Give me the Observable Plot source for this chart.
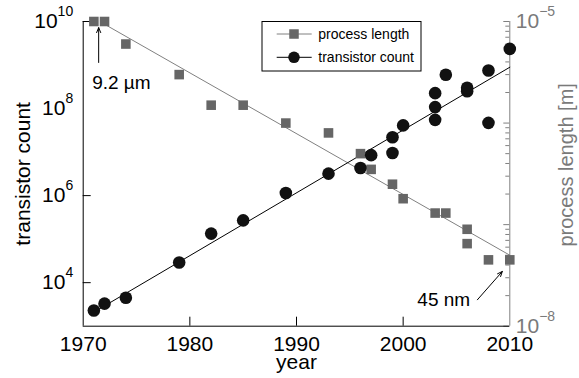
<!DOCTYPE html>
<html><head><meta charset="utf-8">
<script src="https://cdn.jsdelivr.net/npm/d3@7"></script>
<script src="https://cdn.jsdelivr.net/npm/@observablehq/plot@0.6"></script>
<style>body{margin:0;background:#fff}</style>
</head><body><div id="chart"></div>
<script>
// ---- data ----
const processYears  = [1971, 1972, 1974, 1979, 1982, 1985, 1989, 1993, 1996, 1997, 1999, 2000, 2003, 2004, 2006, 2006, 2008, 2010];
const processLength = [1e-5, 1e-5, 6e-6, 3e-6, 1.5e-6, 1.5e-6, 1e-6, 8e-7, 5e-7, 3.5e-7, 2.5e-7, 1.8e-7, 1.3e-7, 1.3e-7, 9e-8, 6.5e-8, 4.5e-8, 4.5e-8];

const transistorYears = [1971, 1972, 1974, 1979, 1982, 1985, 1989, 1993, 1996, 1997, 1999, 1999, 2000, 2003, 2003, 2003, 2004, 2006, 2006, 2008, 2008, 2010];
const transistorCount = [2300, 3300, 4500, 29000, 134000, 270000, 1.15e6, 3.2e6, 4.3e6, 8.5e6, 9.5e6, 2.2e7, 4.1e7, 5.5e7, 1.08e8, 2.26e8, 6.0e8, 2.5e8, 3.0e8, 7.5e8, 4.7e7, 2.35e9];

const processFitYears  = [1972, 2010];
const processFitValues = [9.4e-6, 5.0e-8];
const transistorFitYears  = [1971, 2010];
const transistorFitValues = [2100, 8.9e8];

const xTickValues = [1970, 1980, 1990, 2000, 2010];
const leftTickLabels = [1e4, 1e6, 1e8, 1e10];
const leftTickMarks = [1e4, 1e6, 1e10];
const rightTickValues = [1e-5, 1e-6, 1e-7, 1e-8];

const annotationTexts  = ["9.2 µm", "45 nm"];
const annotationYears  = [1970.84, 2001.33];
const annotationValues = [2.5e-6, 1.8e-8];
const arrowYears1  = [1971.45, 2006.96];
const arrowValues1 = [3.95e-6, 1.82e-8];
const arrowYears2  = [1971.45, 2009.3];
const arrowValues2 = [8.7e-6, 3.46e-8];

const legendLabels = ["process length", "transistor count"];

// ---- layout / style ----
const FONT = "'Liberation Sans', Arial, Helvetica, sans-serif";
const GRAY_MARK = "#666666";
const GRAY_LINE = "#808080";
const GRAY_TEXT = "#7a7a7a";
const W = 579, H = 378;
const mL = 82.7, mR = 69.7, mT = 21, mB = 52.3;
const frameW = W - mL - mR, frameH = H - mT - mB;

// map process length (1e-8..1e-5) onto the transistor-count scale (1e3..1e10)
const tp = v => Math.pow(10, 3 + (Math.log10(v) + 8) * 7 / 3);
const tpInv = d => Math.round((Math.log10(d) - 3) * 3 / 7 - 8);

const processData = processYears.map((y, i) => ({year: y, v: tp(processLength[i])}));
const transistorData = transistorYears.map((y, i) => ({year: y, v: transistorCount[i]}));
const processFit = processFitYears.map((y, i) => ({year: y, v: tp(processFitValues[i])}));
const transistorFit = transistorFitYears.map((y, i) => ({year: y, v: transistorFitValues[i]}));
const annotations = annotationTexts.map((t, i) => ({t, year: annotationYears[i], v: tp(annotationValues[i])}));
const arrows = arrowYears1.map((y, i) => ({x1: y, y1: tp(arrowValues1[i]), x2: arrowYears2[i], y2: tp(arrowValues2[i])}));

const minorRight = [];
for (let e = -8; e < -5; e++) for (let k = 2; k <= 9; k++) minorRight.push(tp(k * Math.pow(10, e)));

const supFmt = e => "10^" + String(e).replace("-", "\u2212");

const plot = Plot.plot({
  width: W, height: H,
  marginLeft: mL, marginRight: mR, marginTop: mT, marginBottom: mB,
  style: {fontFamily: FONT, fontSize: "20px", background: "white", overflow: "visible"},
  x: {domain: [1970, 2010], axis: null},
  y: {type: "log", domain: [1e3, 1e10], axis: null},
  marks: [
    // inward ticks
    Plot.tickX(xTickValues.slice(1, -1), {insetTop: frameH - 9, stroke: "black"}),
    Plot.tickY(leftTickMarks, {insetRight: frameW - 8, stroke: "black"}),
    Plot.tickY(rightTickValues.map(tp), {insetLeft: frameW - 6, stroke: GRAY_LINE}),
    Plot.tickY(minorRight, {insetLeft: frameW - 4, stroke: GRAY_LINE}),
    // axis lines
    Plot.ruleX([2010], {stroke: GRAY_LINE}),
    Plot.ruleX([1970], {stroke: "black"}),
    Plot.ruleY([1e3], {stroke: "black"}),
    // fits
    Plot.line(processFit, {x: "year", y: "v", stroke: GRAY_LINE, strokeWidth: 1}),
    Plot.line(transistorFit, {x: "year", y: "v", stroke: "black", strokeWidth: 1}),
    // data
    Plot.dot(processData, {x: "year", y: "v", symbol: "square", r: 5.4, fill: GRAY_MARK, stroke: "none"}),
    Plot.dot(transistorData, {x: "year", y: "v", r: 6.3, fill: "#111", stroke: "none"}),
    // tick labels
    Plot.axisX({ticks: xTickValues, tickSize: 0, tickPadding: 10, tickFormat: d => String(d), label: null, fontSize: 21}),
    Plot.axisY({anchor: "left", ticks: leftTickLabels, tickSize: 0, tickPadding: 10,
      tickFormat: d => supFmt(Math.round(Math.log10(d))), label: null, fontSize: 21}),
    Plot.axisY({anchor: "right", ticks: rightTickValues.map(tp), tickSize: 0, tickPadding: 6,
      tickFormat: d => supFmt(tpInv(d)), label: null, fontSize: 21, color: GRAY_TEXT}),
    // axis titles
    Plot.text(["year"], {frameAnchor: "bottom", dy: 36, text: d => d, lineAnchor: "middle", textAnchor: "middle", fontSize: 21, fill: "black"}),
    Plot.text(["transistor count"], {frameAnchor: "left", dx: -60, text: d => d, rotate: -90, lineAnchor: "middle", textAnchor: "middle", fontSize: 21, fill: "black"}),
    Plot.text(["process length [m]"], {frameAnchor: "right", dx: 56.7, dy: -9, text: d => d, rotate: -90, lineAnchor: "middle", textAnchor: "middle", fontSize: 20, fill: GRAY_TEXT}),
    // annotations
    Plot.arrow(arrows, {x1: "x1", y1: "y1", x2: "x2", y2: "y2", stroke: "black", strokeWidth: 1, headLength: 8, headAngle: 45}),
    Plot.text(annotations, {x: "year", y: "v", text: "t", textAnchor: "start", lineAnchor: "middle", fontSize: 19, fill: "black"})
  ]
});

const svg = d3.select(plot);
// superscript exponents
svg.selectAll("text").each(function () {
  const m = /^10\^(.+)$/.exec(this.textContent);
  if (!m) return;
  const el = d3.select(this);
  el.text(null);
  el.append("tspan").text("10");
  el.append("tspan").attr("dy", "-12").attr("font-size", "14px").text(m[1]);
});

// legend (inside the plot area)
const lg = svg.append("g").attr("font-family", FONT).attr("font-size", 14).attr("text-anchor", "start");
lg.append("rect").attr("x", 262).attr("y", 21.5).attr("width", 159).attr("height", 49.5)
  .attr("fill", "white").attr("stroke", "black").attr("stroke-width", 1);
const rowsY = [34, 57.3];
legendLabels.forEach((label, i) => {
  const y = rowsY[i];
  lg.append("line").attr("x1", 276.7).attr("x2", 311.7).attr("y1", y).attr("y2", y)
    .attr("stroke", i === 0 ? GRAY_LINE : "black").attr("stroke-width", 1);
  if (i === 0) {
    lg.append("rect").attr("x", 294 - 4.75).attr("y", y - 4.75).attr("width", 9.5).attr("height", 9.5).attr("fill", GRAY_MARK);
  } else {
    lg.append("circle").attr("cx", 294).attr("cy", y).attr("r", 5.8).attr("fill", "#111");
  }
  lg.append("text").attr("x", 318.3).attr("y", y).attr("dy", "0.35em").attr("fill", "black").text(label);
});

document.getElementById("chart").appendChild(plot);
</script>
</body></html>
